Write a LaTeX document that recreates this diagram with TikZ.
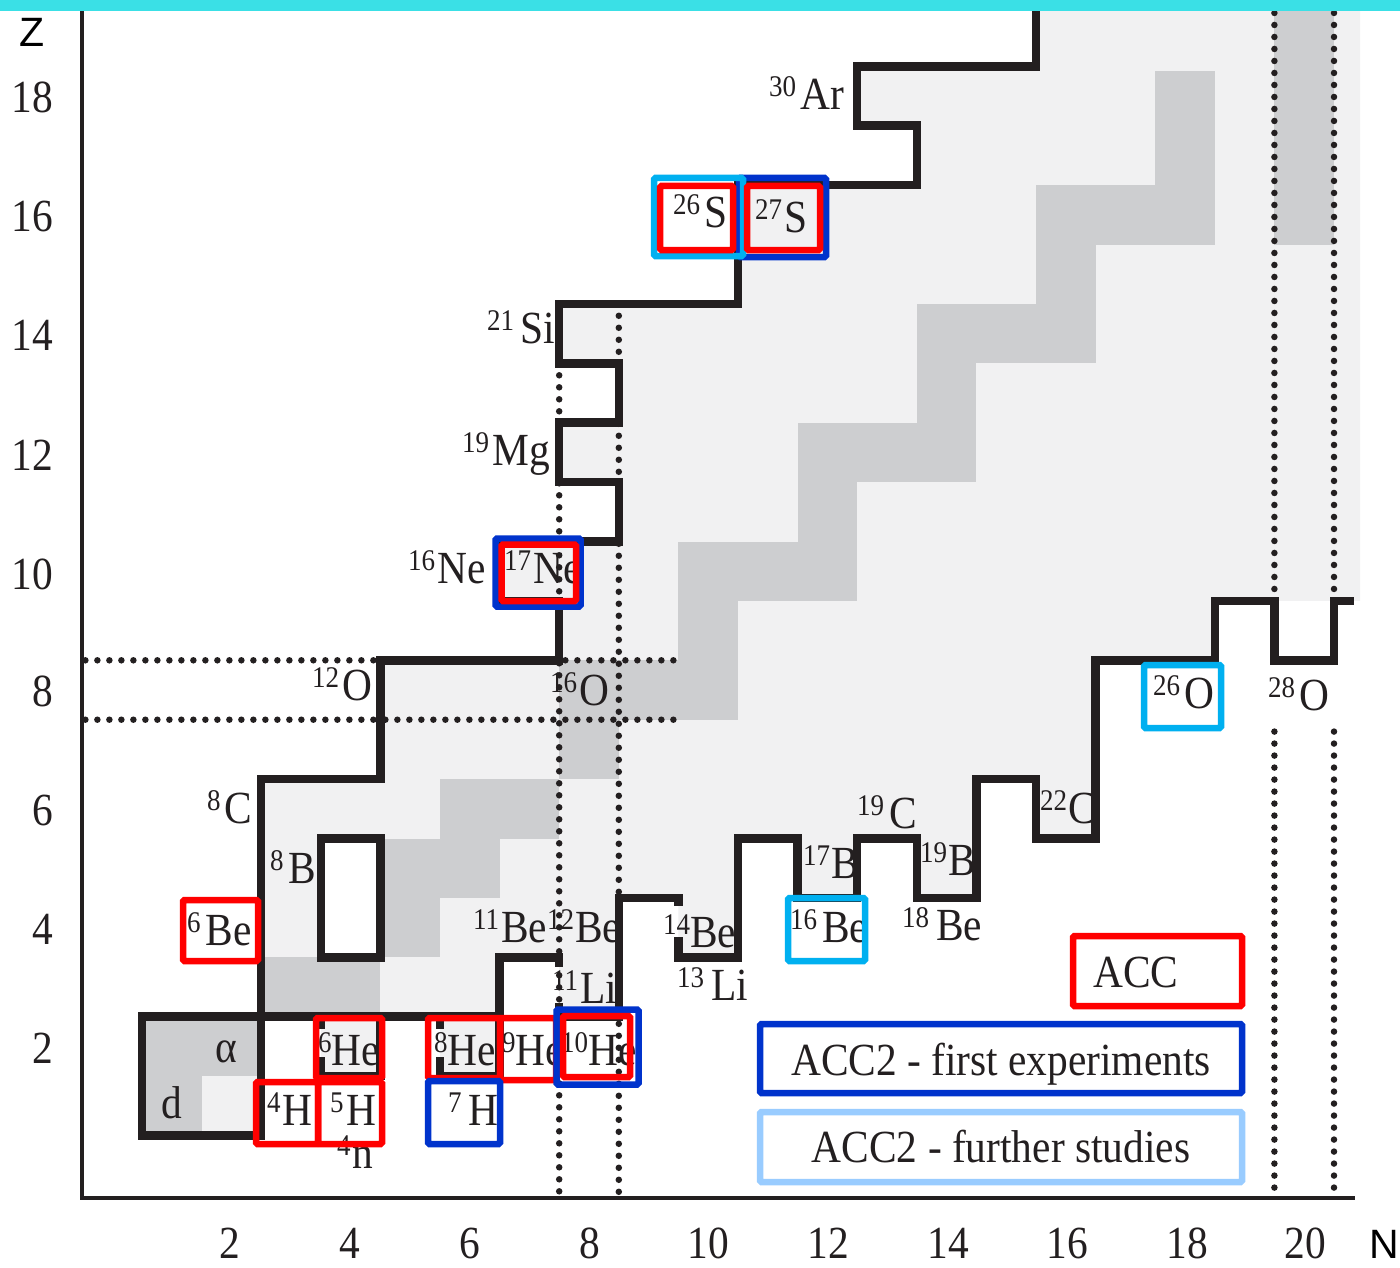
\documentclass[tikz,border=0pt]{standalone}
\usepackage{fontspec}
\setmainfont{Liberation Serif}[FakeStretch=0.9]
\newfontfamily\axsans{Liberation Sans}
\definecolor{topbar}{RGB}{58,224,230}
\definecolor{lgray}{RGB}{241,241,242}
\definecolor{dgray}{RGB}{205,206,208}
\definecolor{ink}{RGB}{35,31,32}
\definecolor{accred}{RGB}{255,0,0}
\definecolor{accblue}{RGB}{0,51,204}
\definecolor{acccyan}{RGB}{0,176,240}
\definecolor{acclight}{RGB}{153,204,255}
\newcommand{\iso}[3][2pt]{{\fontsize{30}{30}\selectfont\raisebox{13pt}{#2}}\kern#1#3}
\begin{document}
\begin{tikzpicture}[x=1pt,y=-1pt,font=\fontsize{46}{46}\selectfont,
  lab/.style={anchor=base west,inner sep=0pt,text=ink},
  blk/.style={line width=8.5pt,draw=ink,line join=miter},
  dotl/.style={line width=6.5pt,draw=ink,line cap=round,dash pattern=on 0pt off 12pt},
  cbox/.style={line width=6.5pt,rounded corners=1.5pt},
  rbox/.style={cbox,draw=accred},
  bbox/.style={cbox,draw=accblue},
  cybox/.style={cbox,draw=acccyan},
  lbbox/.style={cbox,draw=acclight}]
\useasboundingbox (0,0) rectangle (1400,1268);
\fill[white] (0,0) rectangle (1400,1268);
% ---------- chart in (N,Z) grid units ----------
\begin{scope}[shift={(112.2,1165.2)},x=59.6pt,y=59.4pt]
  % bound region
  \fill[lgray] (15.5,19.7) -- (15.5,18.5) -- (12.5,18.5) -- (12.5,17.5) -- (13.5,17.5) -- (13.5,16.5)
    -- (10.5,16.5) -- (10.5,14.5) -- (7.5,14.5) -- (7.5,13.5) -- (8.5,13.5) -- (8.5,12.5)
    -- (7.5,12.5) -- (7.5,11.5) -- (8.5,11.5) -- (8.5,10.5) -- (6.5,10.5) -- (6.5,9.5)
    -- (7.5,9.5) -- (7.5,8.5) -- (4.5,8.5) -- (4.5,6.5) -- (2.5,6.5) -- (2.5,2.5)
    -- (6.5,2.5) -- (6.5,3.5) -- (7.5,3.5) -- (7.5,2.5) -- (8.5,2.5) -- (8.5,4.5)
    -- (9.5,4.5) -- (9.5,3.5) -- (10.5,3.5) -- (10.5,5.5) -- (11.5,5.5) -- (11.5,4.5)
    -- (12.5,4.5) -- (12.5,5.5) -- (13.5,5.5) -- (13.5,4.5) -- (14.5,4.5) -- (14.5,6.5)
    -- (15.5,6.5) -- (15.5,5.5) -- (16.5,5.5) -- (16.5,8.5) -- (18.5,8.5) -- (18.5,9.5)
    -- (20.94,9.5) -- (20.94,19.7) -- cycle;
  \fill[lgray] (1.5,0.5) rectangle (2.5,1.5);
  \fill[lgray] (3.5,1.5) rectangle (4.5,2.5);
  \fill[lgray] (5.5,1.5) rectangle (6.5,2.5);
  % stable nuclei
  \fill[dgray] (0.5,0.5) rectangle (1.5,1.5);
  \fill[dgray] (0.5,1.5) rectangle (2.5,2.5);
  \fill[dgray] (2.5,2.5) rectangle (4.5,3.5);
  \fill[dgray] (4.5,3.5) rectangle (5.5,4.5);
  \fill[dgray] (4.5,4.5) rectangle (6.5,5.5);
  \fill[dgray] (5.5,5.5) rectangle (7.5,6.5);
  \fill[dgray] (7.5,6.5) rectangle (8.5,7.5);
  \fill[dgray] (7.5,7.5) rectangle (10.5,8.5);
  \fill[dgray] (9.5,8.5) rectangle (10.5,9.5);
  \fill[dgray] (9.5,9.5) rectangle (12.5,10.5);
  \fill[dgray] (11.5,10.5) rectangle (12.5,11.5);
  \fill[dgray] (11.5,11.5) rectangle (14.5,12.5);
  \fill[dgray] (13.5,12.5) rectangle (14.5,13.5);
  \fill[dgray] (13.5,13.5) rectangle (16.5,14.5);
  \fill[dgray] (15.5,14.5) rectangle (16.5,15.5);
  \fill[dgray] (15.5,15.5) rectangle (18.5,16.5);
  \fill[dgray] (17.5,16.5) rectangle (18.5,18.42);
  \fill[dgray] (19.5,15.5) rectangle (20.5,19.7);
  % unbound 8Be / 9B block
  \filldraw[fill=white,blk] (3.5,3.5) rectangle (4.5,5.5);
  % dotted shell lines
  \draw[dotl] (7.5,13.5) -- (7.5,-0.45);
  \draw[dotl] (8.5,14.3) -- (8.5,-0.45);
  \draw[dotl] (19.5,19.6) -- (19.5,9.5);
  \draw[dotl] (19.5,7.3) -- (19.5,-0.45);
  \draw[dotl] (20.5,19.6) -- (20.5,9.5);
  \draw[dotl] (20.5,7.3) -- (20.5,-0.45);
  \draw[dotl] (-0.45,8.5) -- (9.5,8.5);
  \draw[dotl] (-0.45,7.5) -- (9.5,7.5);
  % proton drip line
  \draw[blk] (15.5,19.7) -- (15.5,18.5) -- (12.5,18.5) -- (12.5,17.5) -- (13.5,17.5) -- (13.5,16.5)
    -- (10.5,16.5) -- (10.5,14.5) -- (7.5,14.5) -- (7.5,13.5) -- (8.5,13.5) -- (8.5,12.5)
    -- (7.5,12.5) -- (7.5,11.5) -- (8.5,11.5) -- (8.5,10.5) -- (6.5,10.5) -- (6.5,9.5)
    -- (7.5,9.5) -- (7.5,8.5) -- (4.5,8.5) -- (4.5,6.5) -- (2.5,6.5) -- (2.5,0.5)
    -- (0.5,0.5) -- (0.5,2.5) -- (6.5,2.5) -- (6.5,3.5) -- (7.5,3.5) -- (7.5,3.33);
  % neutron drip line
  \draw[blk] (7.5,2.73) -- (7.5,2.5) -- (8.5,2.5) -- (8.5,4.5) -- (9.5,4.5) -- (9.5,4.36);
  \draw[blk] (9.5,3.84) -- (9.5,3.5) -- (10.5,3.5) -- (10.5,5.5) -- (11.5,5.5) -- (11.5,4.5)
    -- (12.5,4.5) -- (12.5,5.5) -- (13.5,5.5) -- (13.5,4.5) -- (14.5,4.5) -- (14.5,6.5)
    -- (15.5,6.5) -- (15.5,5.5) -- (16.5,5.5) -- (16.5,8.5) -- (18.5,8.5) -- (18.5,9.5)
    -- (19.5,9.5) -- (19.5,8.5) -- (20.5,8.5) -- (20.5,9.5) -- (20.83,9.5);
  % bound 6He and 8He cells
  \draw[blk] (3.5,2.5) -- (3.5,2.3);
  \draw[blk] (3.5,1.82) -- (3.5,1.5) -- (4.5,1.5) -- (4.5,2.5);
  \draw[blk] (5.5,2.5) -- (5.5,2.3);
  \draw[blk] (5.5,1.82) -- (5.5,1.5) -- (6.5,1.5) -- (6.5,2.5);
\end{scope}
% ---------- axes ----------
\draw[line width=4pt,ink] (82,11) -- (82,1198) -- (1355,1198);
\foreach \v/\xx in {2/230,4/350,6/470,8/590,10/708,12/828,14/948,16/1067,18/1187,20/1305}
  \node[anchor=base,inner sep=0pt,text=ink] (nx\v) at (\xx,1258) {\v};
\foreach \v/\yy in {18/112.5,16/231.7,14/350.9,12/470.1,10/589.3,8/706.5,6/825.3,4/944.1,2/1063.3}
  \node[anchor=base east,inner sep=0pt,text=ink] (zy\v) at (53,\yy) {\v};
\node[anchor=base west,inner sep=0pt,font=\axsans\fontsize{41}{41}\selectfont] (zlab) at (19,47) {Z};
\node[anchor=base west,inner sep=0pt,font=\axsans\fontsize{41}{41}\selectfont] (nlab) at (1369,1258) {N};
% ---------- nuclide labels ----------
\node[lab] (ar30) at (769,110) {\iso[4pt]{30}{Ar}};
\node[lab] (s26) at (673,227) {\iso[4pt]{26}{S}};
\node[lab] (s27) at (755,233) {\iso{27}{S}};
\node[lab] (si21) at (487,343) {\iso[6pt]{21}{Si}};
\node[lab] (mg19) at (462,465) {\iso[3pt]{19}{Mg}};
\node[lab] (ne16) at (408,583) {\iso{16}{Ne}};
\node[lab] (ne17) at (504,583) {\iso{17}{Ne}};
\node[lab] (o12) at (312,700) {\iso[3pt]{12}{O}};
\node[lab] (o16) at (550,705) {\iso[2pt]{16}{O}};
\node[lab] (c8) at (207,823) {\iso[4pt]{8}{C}};
\node[lab] (b8) at (270,883) {\iso[5pt]{8}{B}};
\node[lab] (be6) at (187,945) {\iso[5pt]{6}{Be}};
\node[lab] (be11) at (473,942) {\iso[2pt]{11}{Be}};
\node[lab] (be12) at (547,942) {\iso[1pt]{12}{Be}};
\node[lab] (li11) at (552,1003) {\iso[2pt]{11}{Li}};
\node[lab] (he6) at (318,1065) {\iso[0pt]{6}{He}};
\node[lab] (he8) at (434,1065) {\iso[0pt]{8}{He}};
\node[lab] (he9) at (502,1065) {\iso[0pt]{9}{He}};
\node[lab] (he10) at (561,1065) {\iso[0pt]{10}{He}};
\node[lab] (h4) at (267,1125) {\iso[2pt]{4}{H}};
\node[lab] (h5) at (330,1125) {\iso[3pt]{5}{H}};
\node[lab] (h7) at (448,1125) {\iso[7pt]{7}{H}};
\node[lab] (n4) at (337,1168) {\iso[2pt]{4}{n}};
\node[lab] (alpha) at (215,1062) {α};
\node[lab] (deut) at (161,1118) {d};
\node[lab] (be14) at (663,947) {\iso[0pt]{14}{Be}};
\node[lab] (li13) at (677,1000) {\iso[7pt]{13}{Li}};
\node[lab] (be16) at (790,942) {\iso[5pt]{16}{Be}};
\node[lab] (b17) at (803,878) {\iso[1pt]{17}{B}};
\node[lab] (c19) at (857,828) {\iso[5pt]{19}{C}};
\node[lab] (b19) at (920,875) {\iso[1pt]{19}{B}};
\node[lab] (be18) at (902,940) {\iso[7pt]{18}{Be}};
\node[lab] (c22) at (1040,823) {\iso[1pt]{22}{C}};
\node[lab] (o26) at (1153,708) {\iso[4pt]{26}{O}};
\node[lab] (o28) at (1268,710) {\iso[4pt]{28}{O}};
% ---------- experiment boxes ----------
\draw[rbox] (183,900) rectangle (258,961);
\draw[rbox] (256,1082) rectangle (318,1144);
\draw[rbox] (318,1082) rectangle (382,1144);
\draw[rbox] (316,1018) rectangle (382,1078);
\draw[rbox] (428,1018) rectangle (500,1078);
\draw[rbox] (500,1018) rectangle (556,1080);
\draw[bbox] (428,1081) rectangle (500,1144);
\draw[bbox] (556.5,1009.5) rectangle (638.5,1084.5);
\draw[bbox] (495.5,538.5) rectangle (580.5,606.5);
\draw[bbox] (739,178) rectangle (826,257);
\draw[cybox] (654,178) rectangle (743,256);
\draw[cybox] (788,898) rectangle (865,961);
\draw[cybox] (1144,665) rectangle (1221,728);
\draw[rbox] (563,1016) rectangle (630,1077);
\draw[rbox] (501.5,544.5) rectangle (576,601);
\draw[rbox] (660,186) rectangle (733,250);
\draw[rbox] (747,186) rectangle (820,250);
% ---------- legend ----------
\draw[rbox] (1073,936) rectangle (1242,1006);
\draw[bbox] (760,1024) rectangle (1242,1093);
\draw[lbbox] (760,1112) rectangle (1242,1182);
\node[anchor=base,inner sep=0pt,text=ink] (legacc) at (1136,987) {ACC};
\node[anchor=base,inner sep=0pt,text=ink] (legfirst) at (1001,1075) {ACC2 - first experiments};
\node[anchor=base,inner sep=0pt,text=ink] (legfurther) at (1001,1162) {ACC2 - further studies};
% ---------- top bar ----------
\fill[topbar] (0,0) rectangle (1400,11);
\end{tikzpicture}
\end{document}
